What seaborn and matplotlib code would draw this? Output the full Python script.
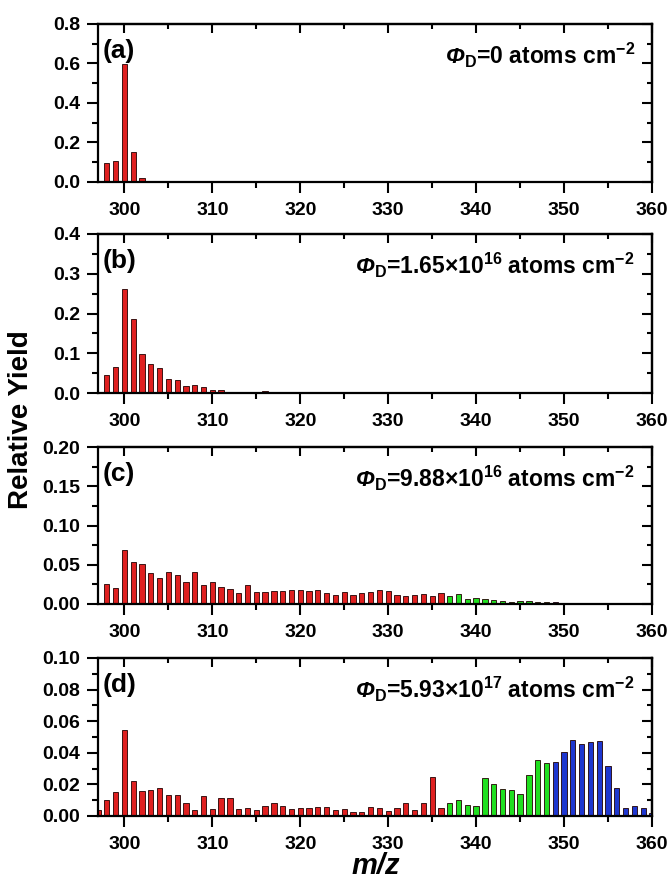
import numpy as np
import pandas as pd
import matplotlib
matplotlib.use("Agg")
import matplotlib.pyplot as plt
from matplotlib.ticker import MultipleLocator
import seaborn as sns

sns.set_theme(style="ticks")
plt.rcParams['font.family'] = ['Liberation Sans', 'DejaVu Sans']
plt.rcParams['font.weight'] = 'bold'
plt.rcParams['text.color'] = 'black'
plt.rcParams['axes.labelcolor'] = 'black'
plt.rcParams['axes.edgecolor'] = 'black'
plt.rcParams['xtick.color'] = 'black'
plt.rcParams['ytick.color'] = 'black'
plt.rcParams['mathtext.fontset'] = 'custom'
plt.rcParams['mathtext.rm'] = 'Liberation Sans:bold'
plt.rcParams['mathtext.bf'] = 'Liberation Sans:bold'
plt.rcParams['mathtext.it'] = 'Liberation Sans:bold:italic'
plt.rcParams['mathtext.sf'] = 'Liberation Sans:bold:italic'
plt.rcParams['mathtext.default'] = 'bf'

# ---------------- data ----------------
mz_a = [298, 299, 300, 301, 302]
val_a = [0.096, 0.106, 0.596, 0.154, 0.022]

mz_b = list(range(298, 331))
val_b = [0.046, 0.066, 0.261, 0.185, 0.099, 0.074, 0.064, 0.035, 0.033, 0.0185,
         0.019, 0.016, 0.0076, 0.0067, 0.003, 0.002, 0.003, 0.003, 0.006, 0.003,
         0.002, 0.003, 0.001, 0.001, 0.001, 0.001, 0.001, 0.001, 0.001, 0.0015,
         0.001, 0.001, 0.001]

mz_c = list(range(298, 351))
val_c = [0.0254, 0.0203, 0.0685, 0.0537, 0.0507, 0.0393, 0.033, 0.041, 0.0372, 0.0279,
         0.0414, 0.0245, 0.0283, 0.0216, 0.0186, 0.0144, 0.0241, 0.0156, 0.0152, 0.0165,
         0.0165, 0.0182, 0.0173, 0.0165, 0.0182, 0.014, 0.0118, 0.0148, 0.0116, 0.014,
         0.0152, 0.0173, 0.016, 0.0118, 0.0106, 0.0114, 0.0127, 0.0101, 0.0144, 0.0097,
         0.0131, 0.0063, 0.0072, 0.0063, 0.005, 0.0042, 0.0025, 0.0042, 0.0034, 0.0025,
         0.0025, 0.0025, 0.0013]

mz_d = list(range(297, 361))
val_d = [0.0036, 0.0101, 0.0149, 0.0547, 0.0219, 0.0156, 0.0162, 0.0175, 0.0135, 0.0131,
         0.0084, 0.004, 0.0124, 0.0042, 0.0112, 0.0112, 0.0042, 0.0048, 0.0038, 0.0063,
         0.0084, 0.0061, 0.0042, 0.0053, 0.0051, 0.0055, 0.0057, 0.0036, 0.0043, 0.0025,
         0.0023, 0.0055, 0.005, 0.0034, 0.005, 0.008, 0.004, 0.008, 0.0244, 0.0053,
         0.0084, 0.0101, 0.0067, 0.0065, 0.024, 0.0202, 0.0173, 0.0164, 0.0141, 0.0259,
         0.0352, 0.0333, 0.0339, 0.0408, 0.048, 0.0455, 0.0469, 0.0472, 0.0314, 0.0177,
         0.005, 0.0061, 0.0048, 0.0017]

panel_labels = ["(a)", "(b)", "(c)", "(d)"]
fluence_texts = [r"$\mathsf{\Phi}_{D}$=0 atoms cm$^{-2}$",
                 r"$\mathsf{\Phi}_{D}$=1.65×10$^{16}$ atoms cm$^{-2}$",
                 r"$\mathsf{\Phi}_{D}$=9.88×10$^{16}$ atoms cm$^{-2}$",
                 r"$\mathsf{\Phi}_{D}$=5.93×10$^{17}$ atoms cm$^{-2}$"]
ymax = [0.8, 0.4, 0.20, 0.10]
ymajor = [0.2, 0.1, 0.05, 0.02]
yfmt = ["{:.1f}", "{:.1f}", "{:.2f}", "{:.2f}"]
x_ticks = [300, 310, 320, 330, 340, 350, 360]

group_colors = {"light": "#FF0000", "mid": "#00FF00", "heavy": "#0022EE"}
green_start, blue_start = 337, 349


def group_of(m):
    if m >= blue_start:
        return "heavy"
    if m >= green_start:
        return "mid"
    return "light"


# ---------------- figure ----------------
W, H = 672, 884
fig = plt.figure(figsize=(W / 100, H / 100), dpi=100)
left_px, right_px = 98, 652
spans = [(24, 182), (234, 393), (447, 604), (658, 816)]

datasets = [(mz_a, val_a), (mz_b, val_b), (mz_c, val_c), (mz_d, val_d)]

for i, ((mz, vals), (t, b)) in enumerate(zip(datasets, spans)):
    ax = fig.add_axes([left_px / W, 1 - b / H, (right_px - left_px) / W, (b - t) / H])
    df = pd.DataFrame({"mz": mz, "val": vals, "grp": [group_of(m) for m in mz]})
    sns.barplot(data=df, x="mz", y="val", hue="grp", palette=group_colors,
                native_scale=True, dodge=False, width=0.6, edgecolor="#200000",
                linewidth=0.6, legend=False, ax=ax)
    ax.set_xlim(297, 360)
    ax.set_ylim(0, ymax[i])
    ax.set_xlabel("")
    ax.set_ylabel("")
    ax.set_xticks(x_ticks)
    ax.set_xticklabels([str(v) for v in x_ticks])
    ax.xaxis.set_minor_locator(MultipleLocator(5))
    yt = np.arange(0, ymax[i] + 1e-9, ymajor[i])
    ax.set_yticks(yt)
    ax.set_yticklabels([yfmt[i].format(v) for v in yt])
    ax.yaxis.set_minor_locator(MultipleLocator(ymajor[i] / 2))
    ax.tick_params(axis="both", which="major", direction="out", length=8, width=1.5,
                   labelsize=14, colors="black")
    ax.tick_params(axis="x", which="major", pad=6.5)
    ax.tick_params(axis="y", which="major", pad=5)
    ax.tick_params(axis="both", which="minor", direction="out", length=4, width=1.5)
    for lab in ax.get_xticklabels() + ax.get_yticklabels():
        lab.set_fontweight("bold")
    for sp in ax.spines.values():
        sp.set_visible(True)
        sp.set_linewidth(1.6)
        sp.set_color("black")
    # inward ticks on top and right
    sec_x = ax.secondary_xaxis("top")
    sec_x.set_xticks(x_ticks)
    sec_x.xaxis.set_minor_locator(MultipleLocator(5))
    sec_x.tick_params(which="major", direction="in", length=6.5, width=1.5, labeltop=False)
    sec_x.tick_params(which="minor", direction="in", length=3.5, width=1.5)
    sec_x.spines["top"].set_linewidth(1.6)
    sec_y = ax.secondary_yaxis("right")
    sec_y.set_yticks(yt)
    sec_y.yaxis.set_minor_locator(MultipleLocator(ymajor[i] / 2))
    sec_y.tick_params(which="major", direction="in", length=7, width=1.5, labelright=False)
    sec_y.tick_params(which="minor", direction="in", length=3.5, width=1.5)
    sec_y.spines["right"].set_linewidth(1.6)

    ax.text(0.009, 0.83, panel_labels[i], transform=ax.transAxes, fontsize=19,
            fontweight="bold", ha="left", va="center")
    ax.text(0.969, 0.80, fluence_texts[i], transform=ax.transAxes, fontsize=16.5,
            fontweight="bold", ha="right", va="center")

fig.text(21 / W, 1 - 420 / H, "Relative Yield", rotation=90, fontsize=20,
         fontweight="bold", ha="center", va="center")
fig.text(376 / W, 1 - 866 / H, "m/z", fontsize=21, fontweight="bold",
         fontstyle="italic", ha="center", va="center")

fig.savefig("out.png", dpi=100)
